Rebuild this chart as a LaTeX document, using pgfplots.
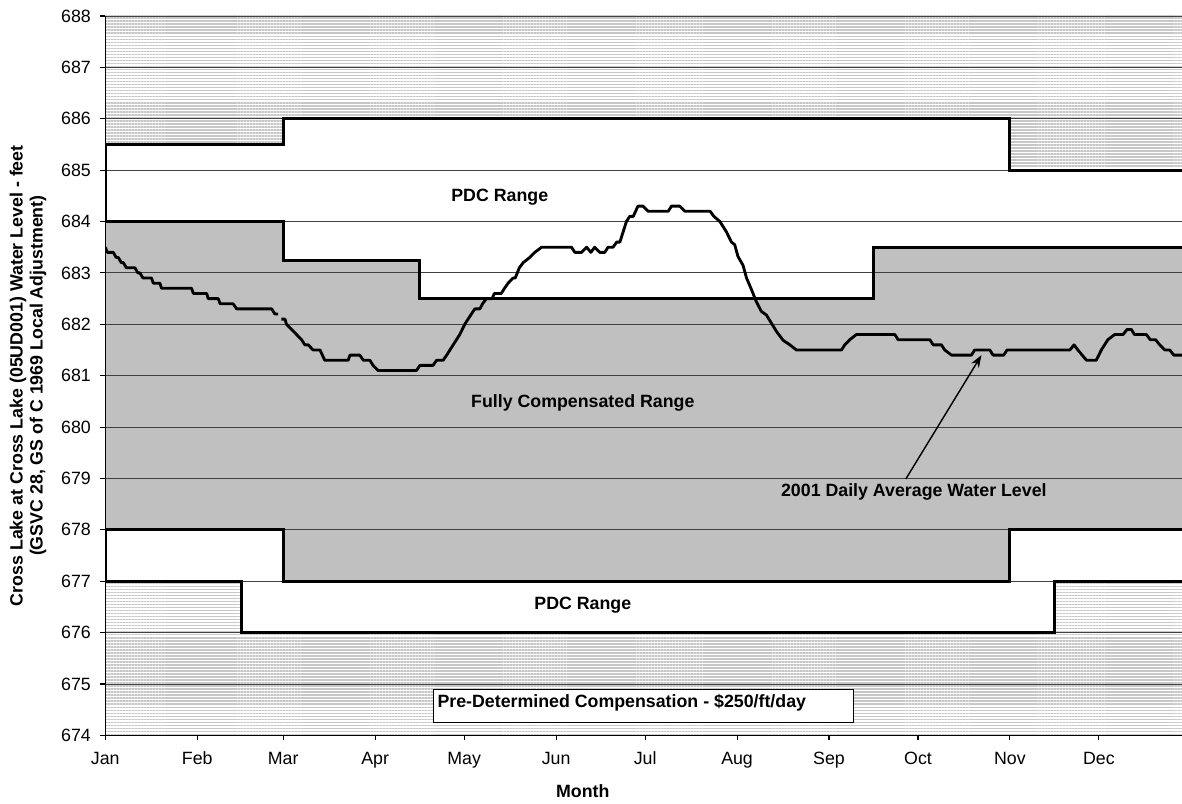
\documentclass[border=0pt]{standalone}
\usepackage{fontspec}
\setmainfont{Liberation Sans}
\usepackage{pgfplots}
\usepackage{pgfplotstable}
\pgfplotsset{compat=1.18}
\usetikzlibrary{patterns.meta,arrows.meta}
\definecolor{compgray}{RGB}{192,192,192}

\pgfplotstableread{
day level
0 683.5
0.7 683.4
2.7 683.4
3.7 683.3
4.4 683.3
5.4 683.2
6.1 683.2
7.1 683.1
10 683.1
11 683.0
11.7 683.0
12.7 682.9
15.6 682.9
16.2 682.8
18.4 682.8
19 682.7
29.1 682.7
29.7 682.6
34.2 682.6
34.7 682.5
38.1 682.5
38.7 682.4
43.1 682.4
44.3 682.3
56.1 682.3
57.2 682.2
58.3 682.2
58.8 nan
59.4 682.1
60.6 682.1
61.1 682.0
62.8 681.9
64.5 681.8
66.2 681.7
67.3 681.6
68.4 681.6
70.1 681.5
72.4 681.5
73.2 681.4
74 681.3
81.9 681.3
82.5 681.4
85.8 681.4
87 681.3
89.2 681.3
90.3 681.2
92 681.1
104.9 681.1
106.1 681.2
110.5 681.2
111.7 681.3
113.9 681.3
115.1 681.4
117.3 681.6
119.5 681.8
121.2 682.0
122.3 682.1
124.6 682.3
126.3 682.3
127.2 682.4
128.5 682.5
130.4 682.5
131.2 682.6
133.5 682.6
134.6 682.7
135.8 682.8
137.5 682.9
138.2 682.9
139.6 683.1
140.9 683.2
143.1 683.3
144.8 683.4
147.1 683.5
157.2 683.5
158.3 683.4
160.6 683.4
162.3 683.5
163.7 683.4
165 683.5
166.7 683.4
168.4 683.4
169.5 683.5
171.2 683.5
172.4 683.6
173.5 683.6
174.6 683.8
175.7 684.0
176.8 684.1
178 684.1
179.6 684.3
181.3 684.3
183 684.2
189.8 684.2
190.9 684.3
193.7 684.3
195.4 684.2
203.9 684.2
205.2 684.1
207.2 684.0
209.4 683.8
211.1 683.6
212.2 683.55
213.3 683.32
215 683.15
216.2 682.9
217.9 682.67
219.5 682.44
221.2 682.25
222.9 682.18
224.6 682.02
226.3 681.86
228.5 681.69
230.8 681.6
233 681.5
248.2 681.5
249.3 681.6
251 681.7
253.2 681.8
266.2 681.8
267.3 681.7
278 681.7
279.1 681.6
281.9 681.6
283 681.5
285.3 681.4
292 681.4
293.1 681.5
298.2 681.5
299.3 681.4
302.9 681.4
304 681.5
325.2 681.5
326.6 681.6
327.9 681.5
330.8 681.3
334.1 681.3
335.8 681.5
338 681.7
340.3 681.8
343.1 681.8
344.5 681.9
345.9 681.9
347 681.8
351 681.8
352.3 681.7
354.1 681.7
355.5 681.6
357.2 681.5
358.9 681.5
360.2 681.4
363 681.4
}\waterlevel

\begin{document}
\fontsize{10}{12}\selectfont
\begin{tikzpicture}
\begin{axis}[
  set layers,
  scale only axis,
  width=605.6pt, height=404.6pt,
  xmin=0, xmax=363, ymin=674, ymax=688,
  axis lines*=left,
  axis line style={black, line width=0.6pt},
  tick align=outside,
  major tick length=2.8pt,
  tick style={black, line width=0.6pt},
  xtick={0,31,60,91,121,152,182,213,244,274,305,335},
  xticklabels={Jan,Feb,Mar,Apr,May,Jun,Jul,Aug,Sep,Oct,Nov,Dec},
  ytick distance=1,
  /pgf/number format/assume math mode=true,
  /pgf/number format/1000 sep={},
  ticklabel style={font=\fontsize{10}{12}\selectfont},
  yticklabel style={xshift=-1.8pt},
  xticklabel style={yshift=-3pt},
  ymajorgrids,
  major grid style={black!75, line width=0.5pt},
  unbounded coords=jump,
  xlabel={Month},
  xlabel style={font=\bfseries\fontsize{10}{12}\selectfont, at={(axis description cs:0.4435,0)}, anchor=center, yshift=-31.5pt},
  ylabel={Cross Lake at Cross Lake (05UD001) Water Level - feet\\(GSVC 28, GS of C 1969 Local Adjustment)},
  ylabel style={font=\bfseries\fontsize{10}{11.3}\selectfont, align=center, at={(axis description cs:-0.0717,0.5)}, anchor=center},
]
\coordinate (sw) at (rel axis cs:0,0);
\coordinate (ne) at (rel axis cs:1,1);
% hatched background
\addplot[on layer=axis background, draw=none, pattern={Lines[angle=0,distance=1.7pt,line width=0.85pt]}, pattern color=black!22]
  coordinates {(0,674) (363,674) (363,688) (0,688)} -- cycle;
% white PDC ranges
\addplot[on layer=axis background, draw=none, fill=white]
  coordinates {(0,685.5) (60,685.5) (60,686) (305,686) (305,685) (363,685)
               (363,677) (320,677) (320,676) (46,676) (46,677) (0,677)} -- cycle;
% fully compensated range
\addplot[on layer=axis background, draw=none, fill=compgray]
  coordinates {(0,684) (60,684) (60,683.25) (106,683.25) (106,682.5) (259,682.5) (259,683.5) (363,683.5)
               (363,678) (305,678) (305,677) (60,677) (60,678) (0,678)} -- cycle;
% boundary lines
\addplot[black, line width=1.7pt, line join=miter] coordinates {(0,684) (0,685.5) (60,685.5) (60,686) (305,686) (305,685) (363,685)};
\addplot[black, line width=1.7pt] coordinates {(0,684) (60,684) (60,683.25) (106,683.25) (106,682.5) (259,682.5) (259,683.5) (363,683.5)};
\addplot[black, line width=1.7pt] coordinates {(0,678) (60,678) (60,677) (305,677) (305,678) (363,678)};
\addplot[black, line width=1.7pt] coordinates {(0,678) (0,677) (46,677) (46,676) (320,676) (320,677) (363,677)};
% water level
\addplot[black, line width=1.6pt, line join=round] table[x=day, y=level] {\waterlevel};
% labels
\node[font=\bfseries] at (axis cs:133,684.48) {PDC Range};
\node[font=\bfseries] at (axis cs:161,680.47) {Fully Compensated Range};
\node[font=\bfseries] at (axis cs:161,676.54) {PDC Range};
\node[font=\bfseries] at (axis cs:272.6,678.74) {2001 Daily Average Water Level};
\draw[-{Stealth[length=7pt,width=5pt]}, black, line width=0.8pt] (axis cs:269.9,678.99) -- (axis cs:295.4,681.40);
\draw[black, line width=0.6pt, fill=white] (axis cs:110.6,674.25) rectangle (axis cs:252.3,674.9);
\node[font=\bfseries, anchor=west, inner sep=0pt] at (axis cs:111.9,674.63) {Pre-Determined Compensation - \$250/ft/day};
\end{axis}
\pgfresetboundingbox
\path[use as bounding box] ([shift={(-59.2pt,-38.6pt)}]sw) rectangle ([shift={(0pt,9pt)}]ne);
\end{tikzpicture}
\end{document}
